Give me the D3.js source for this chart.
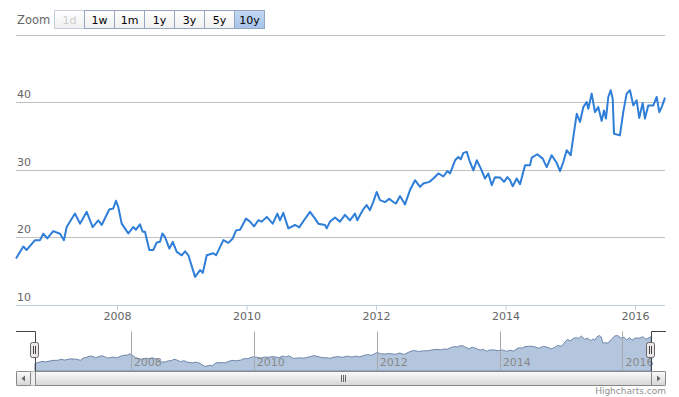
<!DOCTYPE html>
<html>
<head>
<meta charset="utf-8">
<script src="https://cdn.jsdelivr.net/npm/d3@7"></script>
<style>
  body { margin: 0; background: #fff; }
  svg text { font-family: "DejaVu Sans", Verdana, sans-serif; }
</style>
</head>
<body>
<svg id="chart"></svg>
<script>
// decimal years
const years = [
  2006.44, 2006.553, 2006.605, 2006.734, 2006.811, 2006.862, 2006.924, 2007.016, 2007.12, 2007.181,
  2007.223, 2007.351, 2007.429, 2007.532, 2007.625, 2007.711, 2007.764, 2007.881, 2007.943, 2007.985,
  2008.02, 2008.073, 2008.175, 2008.252, 2008.293, 2008.355, 2008.397, 2008.432, 2008.499, 2008.561,
  2008.613, 2008.664, 2008.70, 2008.741, 2008.808, 2008.86, 2008.922, 2008.999, 2009.05, 2009.101,
  2009.205, 2009.282, 2009.324, 2009.385, 2009.487, 2009.529, 2009.642, 2009.719, 2009.787, 2009.838,
  2009.90, 2009.992, 2010.054, 2010.116, 2010.182, 2010.235, 2010.312, 2010.405, 2010.476, 2010.517,
  2010.568, 2010.646, 2010.749, 2010.815, 2010.888, 2010.981, 2011.058, 2011.109, 2011.212, 2011.239,
  2011.29, 2011.367, 2011.444, 2011.521, 2011.598, 2011.676, 2011.711, 2011.795, 2011.856, 2011.907,
  2011.958, 2012.011, 2012.062, 2012.139, 2012.205, 2012.267, 2012.309, 2012.371, 2012.448, 2012.525,
  2012.602, 2012.68, 2012.73, 2012.823, 2012.885, 2012.962, 2013.039, 2013.101, 2013.143, 2013.22,
  2013.271, 2013.308, 2013.348, 2013.401, 2013.441, 2013.503, 2013.555, 2013.617, 2013.683, 2013.734,
  2013.787, 2013.838, 2013.915, 2013.977, 2014.028, 2014.069, 2014.111, 2014.173, 2014.224, 2014.301,
  2014.378, 2014.405, 2014.491, 2014.575, 2014.636, 2014.713, 2014.791, 2014.842, 2014.893, 2014.945,
  2015.007, 2015.047, 2015.10, 2015.151, 2015.202, 2015.254, 2015.279, 2015.331, 2015.382, 2015.433,
  2015.486, 2015.521, 2015.552, 2015.588, 2015.625, 2015.656, 2015.676, 2015.768, 2015.819, 2015.872,
  2015.923, 2015.974, 2016.026, 2016.066, 2016.119, 2016.154, 2016.205, 2016.283, 2016.335, 2016.375,
  2016.412, 2016.463
];
const prices = [
  16.84, 18.6, 18.1, 19.55, 19.55, 20.5, 19.8, 20.9, 20.5, 19.55,
  21.5, 23.5, 22.0, 23.75, 21.5, 22.5, 21.8, 24.1, 24.25, 25.4,
  24.5, 22.0, 20.55, 21.5, 21.1, 21.9, 20.8, 20.8, 18.1, 18.1,
  19.2, 19.3, 20.55, 20.0, 18.3, 19.3, 17.8, 17.3, 17.9, 17.3,
  14.1, 15.1, 14.7, 17.3, 17.6, 17.3, 19.55, 19.15, 19.8, 21.0,
  21.1, 22.75, 22.3, 21.6, 22.5, 22.3, 23.0, 22.0, 23.5, 22.5,
  23.6, 21.3, 21.8, 21.45, 22.5, 23.75, 22.75, 22.0, 21.8, 21.3,
  22.3, 22.9, 22.3, 23.3, 22.5, 23.5, 22.5, 24.0, 24.75, 24.0,
  25.2, 26.7, 25.5, 25.2, 25.7, 25.2, 25.0, 26.1, 24.85, 27.0,
  28.45, 27.45, 27.95, 28.2, 28.7, 29.45, 29.0, 29.8, 29.45, 31.4,
  31.9, 31.55, 32.5, 32.65, 31.4, 29.9, 31.4, 30.2, 28.7, 29.45,
  27.7, 28.9, 28.85, 28.2, 28.9, 28.45, 27.55, 28.7, 27.85, 30.65,
  30.65, 31.8, 32.3, 31.65, 30.4, 32.15, 31.0, 29.8, 31.15, 32.9,
  32.15, 34.85, 38.3, 37.1, 39.3, 40.05, 39.05, 41.3, 38.55, 39.3,
  37.25, 38.8, 37.6, 40.8, 41.8, 40.55, 35.35, 35.1, 38.55, 41.3,
  41.8, 39.55, 40.3, 37.7, 39.9, 37.6, 39.55, 39.55, 40.8, 38.55,
  39.3, 40.7
];
const gridValues = [20, 30, 40, 50];
const yLabels = [10, 20, 30, 40];
const tickYears = [2008, 2010, 2012, 2014, 2016];
const buttons = ['1d', '1w', '1m', '1y', '3y', '5y', '10y'];
const selectedButton = '10y';
const disabledButton = '1d';

const W = 679, H = 397;

function toDate(y) {
    let yr = Math.floor(y);
    let a = new Date(yr, 0, 1), b = new Date(yr + 1, 0, 1);
    return new Date(+a + (y - yr) * (b - a));
}

const data = years.map((y, i) => ({date: toDate(y), v: prices[i]}));
const tickDates = tickYears.map(y => new Date(y, 0, 1));

const svg = d3.select('#chart').attr('width', W).attr('height', H);
svg.append('rect').attr('width', W).attr('height', H).attr('fill', '#fff');

// ---- main chart
const x = d3.scaleTime().domain(d3.extent(data, d => d.date)).range([16, 665]);
const y = d3.scaleLinear().domain([10, 50]).range([304.5, 35]);

svg.append('g').selectAll('line').data(gridValues).join('line')
    .attr('x1', 16).attr('x2', 665)
    .attr('y1', d => Math.round(y(d)) + 0.5).attr('y2', d => Math.round(y(d)) + 0.5)
    .attr('stroke', '#c0c0c0');

svg.append('g').selectAll('text').data(yLabels).join('text')
    .attr('x', 17).attr('y', d => y(d) - 4)
    .attr('font-size', 11).attr('fill', '#666')
    .text(d => d);

const xAxis = svg.append('g')
    .attr('transform', 'translate(0,' + (Math.round(y(10)) + 0.5) + ')')
    .call(d3.axisBottom(x).tickValues(tickDates).tickFormat(d3.timeFormat('%Y'))
        .tickSize(5).tickPadding(2));
xAxis.select('.domain').remove();
xAxis.append('line').attr('x1', 16).attr('x2', 665).attr('stroke', '#c0d0e0');
xAxis.selectAll('.tick line').attr('stroke', '#c0d0e0');
xAxis.selectAll('.tick text').attr('fill', '#666').attr('font-size', 11)
    .attr('font-family', '"DejaVu Sans", Verdana, sans-serif');

svg.append('path').datum(data)
    .attr('fill', 'none').attr('stroke', '#2f7ed8').attr('stroke-width', 2)
    .attr('stroke-linejoin', 'round')
    .attr('d', d3.line().x(d => x(d.date)).y(d => y(d.v)));

// ---- range selector
svg.append('text').attr('x', 17).attr('y', 24)
    .attr('font-size', 11.5).attr('fill', '#666').text('Zoom');

const grad = svg.append('defs');
grad.append('linearGradient').attr('id', 'btn').attr('x1', 0).attr('x2', 0).attr('y1', 0).attr('y2', 1)
    .selectAll('stop').data([['0%', '#ffffff'], ['100%', '#f0f0f0']]).join('stop')
    .attr('offset', d => d[0]).attr('stop-color', d => d[1]);
grad.append('linearGradient').attr('id', 'btnSel').attr('x1', 0).attr('x2', 0).attr('y1', 0).attr('y2', 1)
    .selectAll('stop').data([['0%', '#c4d8f1'], ['100%', '#a6c2e8']]).join('stop')
    .attr('offset', d => d[0]).attr('stop-color', d => d[1]);
grad.append('linearGradient').attr('id', 'bar').attr('x1', 0).attr('x2', 0).attr('y1', 0).attr('y2', 1)
    .selectAll('stop').data([['0%', '#fbfbfb'], ['100%', '#d6d6d6']]).join('stop')
    .attr('offset', d => d[0]).attr('stop-color', d => d[1]);

const btnX = d3.scaleBand().domain(buttons).range([54, 264]);
const btn = svg.append('g').selectAll('g').data(buttons).join('g')
    .attr('transform', d => 'translate(' + btnX(d) + ',0)');
btn.append('rect')
    .attr('x', 0.5).attr('y', 10.5).attr('width', btnX.bandwidth()).attr('height', 18)
    .attr('fill', d => d == selectedButton ? 'url(#btnSel)' : 'url(#btn)')
    .attr('stroke', d => d == disabledButton ? '#c8d0dc' : '#94a6c2');
btn.append('text')
    .attr('x', btnX.bandwidth() / 2 + 0.5).attr('y', 24)
    .attr('text-anchor', 'middle').attr('font-size', 11)
    .attr('fill', d => d == disabledButton ? '#cccccc' : '#000')
    .text(d => d);

// ---- navigator
const xN = d3.scaleTime().domain(x.domain()).range([35, 651]);
const yN = d3.scaleLinear().domain([10, 45]).range([371, 332]);

svg.append('path').datum(data)
    .attr('fill', '#b4c6de').attr('stroke', '#6f87ab').attr('stroke-width', 1)
    .attr('d', d3.area().x(d => xN(d.date)).y0(371).y1(d => yN(d.v)));

const navGrid = svg.append('g').selectAll('g').data(tickDates).join('g');
navGrid.append('line')
    .attr('x1', d => Math.round(xN(d)) + 0.5).attr('x2', d => Math.round(xN(d)) + 0.5)
    .attr('y1', 331.5).attr('y2', 371).attr('stroke', '#a8a8a8');
navGrid.append('text')
    .attr('x', d => xN(d) + 3).attr('y', 366)
    .attr('font-size', 11).attr('fill', '#888')
    .text(d3.timeFormat('%Y'));

// navigator outline
svg.append('path')
    .attr('d', 'M16,331.5H35.5V371.5H651.5V331.5H666')
    .attr('fill', 'none').attr('stroke', '#444');

// scrollbar
svg.append('rect').attr('x', 16.5).attr('y', 371.5).attr('width', 649).attr('height', 14)
    .attr('fill', '#eeeeee').attr('stroke', '#bbbbbb');
svg.append('rect').attr('x', 35.5).attr('y', 371.5).attr('width', 616).attr('height', 14)
    .attr('fill', 'url(#bar)').attr('stroke', '#888');
[[16.5, -1], [651.5, 1]].forEach(([bx, dir]) => {
    svg.append('rect').attr('x', bx).attr('y', 371.5).attr('width', 14).attr('height', 14)
        .attr('rx', 1).attr('fill', 'url(#bar)').attr('stroke', '#888');
    let cx = bx + 7, cy = 378.5;
    svg.append('path')
        .attr('d', 'M' + (cx + 2 * dir) + ',' + cy + 'L' + (cx - 1.5 * dir) + ',' + (cy - 3) + 'V' + (cy + 3) + 'Z')
        .attr('fill', '#666');
});
[-2, 0, 2].forEach(dx => {
    svg.append('line').attr('x1', 343.5 + dx).attr('x2', 343.5 + dx)
        .attr('y1', 375).attr('y2', 382).attr('stroke', '#666');
});

// handles
[35, 651].forEach(hx => {
    svg.append('rect').attr('x', hx - 4.5).attr('y', 342.5).attr('width', 8).attr('height', 15)
        .attr('rx', 2).attr('fill', '#ebe7e8').attr('stroke', '#666');
    [-1.5, 0.5].forEach(dx => {
        svg.append('line').attr('x1', hx + dx).attr('x2', hx + dx)
            .attr('y1', 346).attr('y2', 354).attr('stroke', '#444');
    });
});

// credits
svg.append('text').attr('x', 666).attr('y', 394)
    .attr('text-anchor', 'end').attr('font-size', 9).attr('fill', '#909090')
    .text('Highcharts.com');
</script>
</body>
</html>
